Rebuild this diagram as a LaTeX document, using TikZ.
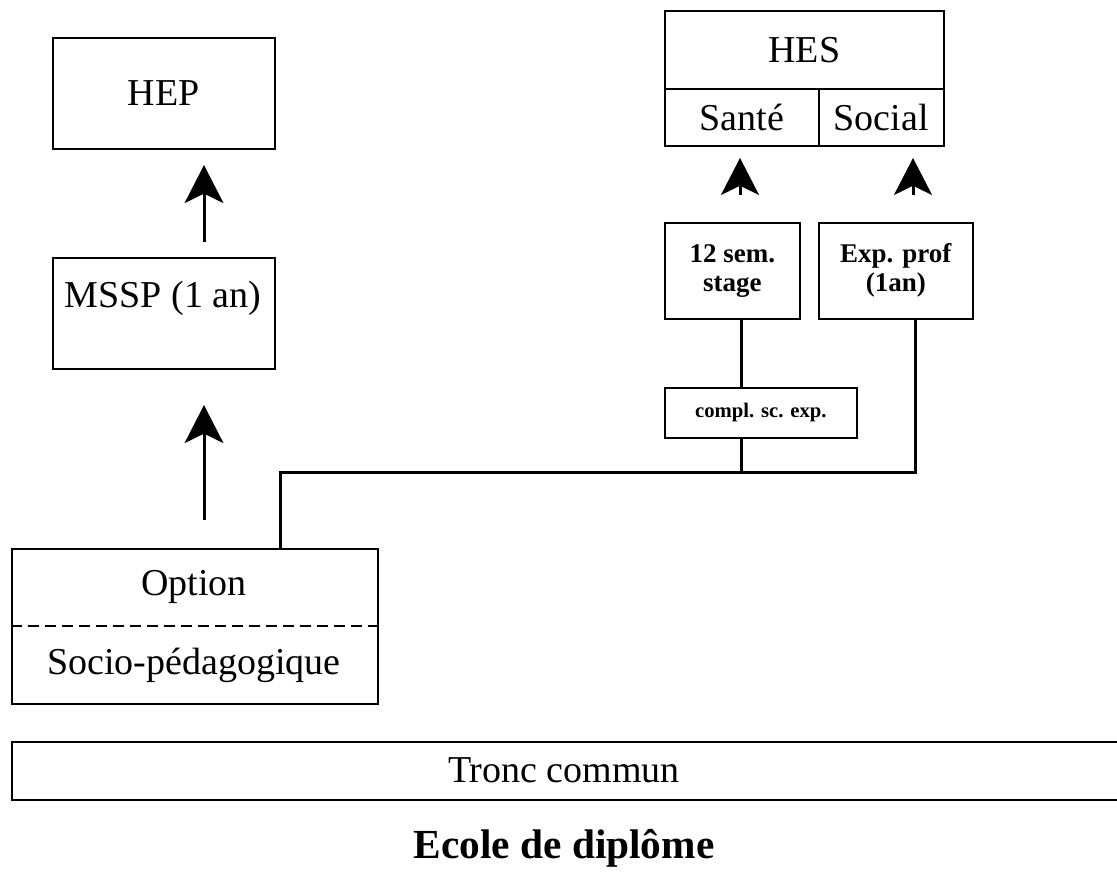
\documentclass[tikz,border=0pt]{standalone}
\usepackage{fontspec}
\setmainfont{Liberation Serif}
\usetikzlibrary{arrows.meta}
\begin{document}
\begin{tikzpicture}[x=0.75pt,y=-0.75pt,
  box/.style={draw, line width=1.2pt, inner sep=0pt, anchor=north west, align=center},
  big/.style={font=\fontsize{28.5}{31}\selectfont},
  med/.style={font=\bfseries\fontsize{20.25}{21.75}\selectfont},
  sml/.style={font=\bfseries\fontsize{15.5}{18}\selectfont},
  conn/.style={line width=2.25pt},
  arr/.style={line width=2.25pt, -{Stealth[length=28.5pt, width=29pt, inset=7pt]}},
  arrs/.style={line width=2.25pt, -{Stealth[length=27.75pt, width=28.5pt, inset=7pt]}}
]
\useasboundingbox (0,0) rectangle (1117,873);
\begin{scope}
\clip (0,0) rectangle (1117,873);
% left column
\node[box, big, minimum width=166.5pt, minimum height=83.25pt] (hep) at (52,37) {HEP};
\node[box, minimum width=166.5pt, minimum height=83.25pt] (mssp) at (52,257) {};
\node[big, inner sep=0pt] (mssptxt) at (163,298) {MSSP (1 an)};
\node[box, minimum width=274.5pt, minimum height=116.25pt] (opt) at (11,548) {};
\node[big, inner sep=0pt] (opttxt) at (194,587) {Option};
\node[big, inner sep=0pt] (socio) at (194,665) {Socio-pédagogique};
\draw[line width=1pt, dash pattern=on 8.25pt off 4.5pt] (opt.west |- 0,626) coordinate (dl) -- (opt.east |- 0,626) coordinate (dr);
% HES
\node[box, big, minimum width=209.25pt, minimum height=58.5pt] (hes) at (664,10) {HES};
\node[box, big, minimum width=115.5pt, minimum height=42.75pt] (sante) at (664,88) {Santé};
\node[box, big, minimum width=93.75pt, minimum height=42.75pt] (social) at (818,88) {Social};
% right boxes
\node[box, med, minimum width=101.25pt, minimum height=72pt] (sem) at (664,222) {12 sem.\\stage};
\node[box, med, minimum width=115.5pt, minimum height=72pt] (exp) at (818,222) {Exp. prof\\(1an)};
\node[box, sml, minimum width=144pt, minimum height=37.5pt] (compl) at (664,387) {compl. sc. exp.};
% tronc commun
\node[box, minimum width=840pt, minimum height=43.5pt] (tronc) at (11,741) {};
\node[big, inner sep=0pt] (tronctxt) at (564,770) {Tronc commun};
\node[big, font=\bfseries\fontsize{31}{34}\selectfont, inner sep=0pt] (ecole) at (564,848) {Ecole de diplôme};
% connectors
\coordinate (jx) at (741,472);
\coordinate (jy) at (915,472);
\coordinate (ox) at (280,472);
\draw[conn] (sem.south -| jx) -- (compl.north -| jx);
\draw[conn] (compl.south -| jx) -- (jx);
\draw[conn] (opt.north -| ox) -- (ox) -- (jy) -- (exp.south -| jy);
% arrows
\coordinate (a1s) at (204,242); \coordinate (a1e) at (204,165);
\coordinate (a2s) at (204,520); \coordinate (a2e) at (204,405);
\coordinate (a3s) at (740,195); \coordinate (a3e) at (740,158);
\coordinate (a4s) at (913,195); \coordinate (a4e) at (913,158);
\draw[arr] (a1s) -- (a1e);
\draw[arr] (a2s) -- (a2e);
\draw[arrs] (a3s) -- (a3e);
\draw[arrs] (a4s) -- (a4e);
\end{scope}
\end{tikzpicture}
\end{document}
